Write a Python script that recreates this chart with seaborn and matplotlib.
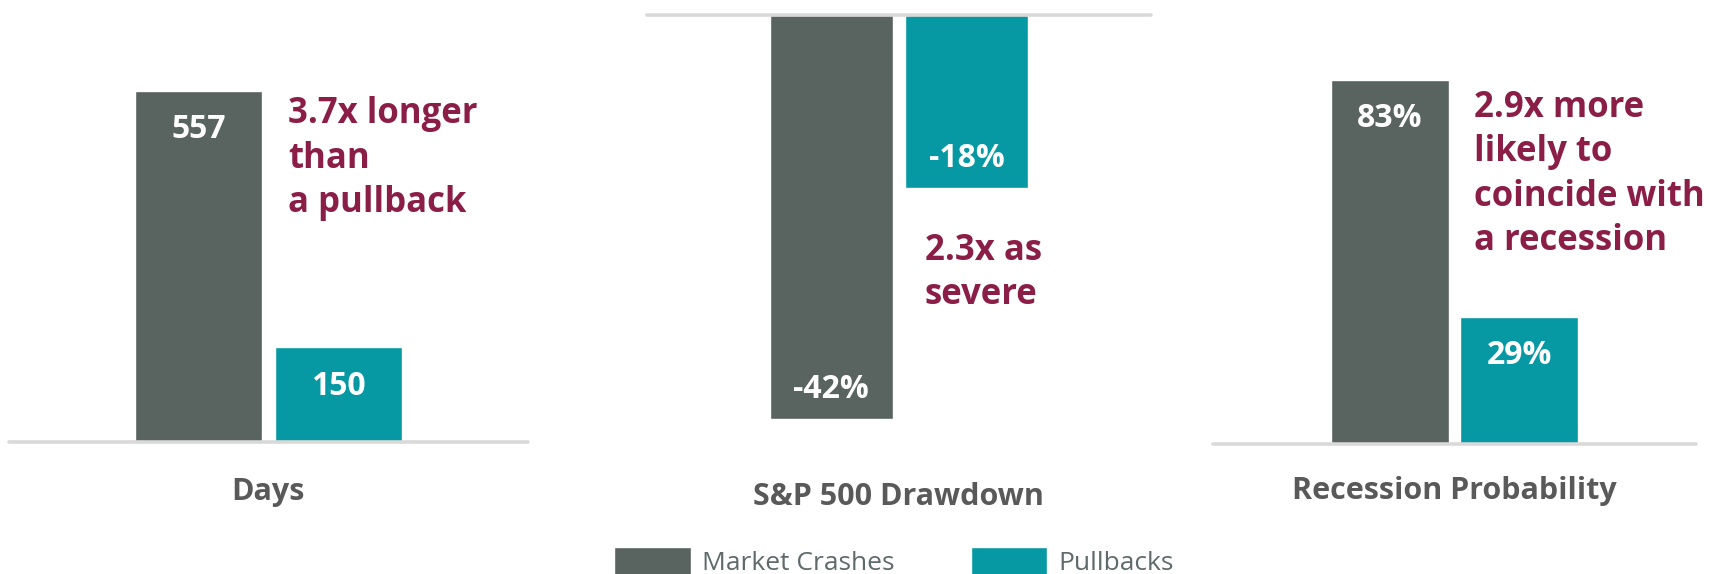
import matplotlib
matplotlib.use("Agg")
import matplotlib.pyplot as plt
import pandas as pd
import seaborn as sns

# ---- data -------------------------------------------------------------
series = ["Market Crashes", "Pullbacks"]
metrics = ["Days", "S&P 500 Drawdown", "Recession Probability"]
days = [557, 150]
drawdown = [-42, -18]
recession = [83, 29]
value_labels = [["557", "150"], ["-42%", "-18%"], ["83%", "29%"]]
callouts = [
    ["3.7x longer", "than", "a pullback"],
    ["2.3x as", "severe"],
    ["2.9x more", "likely to", "coincide with", "a recession"],
]

# ---- style ------------------------------------------------------------
GREY = "#59635F"
TEAL = "#0699A3"
MAROON = "#8B1E47"
LABEL_GREY = "#595959"
LEGEND_GREY = "#5F6A6A"
RULE = "#D9D9D9"

sns.set_theme(style="white")
plt.rcParams["font.family"] = ["Open Sans", "DejaVu Sans"]

W, H = 1709, 574
fig = plt.figure(figsize=(W / 100, H / 100), dpi=100)


def fx(px):
    return px / W


def fy(py):
    return 1 - py / H


# panel boxes in pixels: left, right, y of zero line, y of far end
boxes = [
    (9, 528, 442, 91),
    (647, 1151, 15, 419),
    (1213, 1696, 444, 80),
]
values = [days, drawdown, recession]

axes = []
for (l, r, y0, y1), vals, metric in zip(boxes, values, metrics):
    bottom = max(y0, y1)
    top = min(y0, y1)
    ax = fig.add_axes([fx(l), fy(bottom), (r - l) / W, (bottom - top) / H])
    df = pd.DataFrame({"metric": [metric] * 2, "series": series, "value": vals})
    sns.barplot(data=df, x="metric", y="value", hue="series",
                palette=[GREY, TEAL], gap=0.09, width=0.8,
                saturation=1, ax=ax, legend=(metric == metrics[0]))
    ax.set_xlim(-0.745, 0.745)
    if min(vals) < 0:
        ax.set_ylim(min(vals), 0)
    else:
        ax.set_ylim(0, max(vals))
    ax.axhline(0, color=RULE, lw=2.6, zorder=5, clip_on=False)
    ax.set_axis_off()
    axes.append(ax)

# value labels inside the bar ends
for ax, labels in zip(axes, value_labels):
    bars = [p for p in ax.patches if p.get_width() > 0]
    bars.sort(key=lambda p: p.get_x())
    for bar, txt in zip(bars, labels):
        xc = bar.get_x() + bar.get_width() / 2
        y_lo = min(bar.get_y(), bar.get_y() + bar.get_height())
        y_hi = max(bar.get_y(), bar.get_y() + bar.get_height())
        if y_hi > 0:
            end, off = y_hi, -34
        else:
            end, off = y_lo, 15
        ax.annotate(txt, (xc, end), xytext=(0, off), textcoords="offset points",
                    ha="center", va="baseline", color="white",
                    fontsize=23, fontweight="bold", annotation_clip=False)

# callout text, one line at a time
callout_pos = [(288, 123), (925, 260), (1474, 117)]
LINE_STEP = 44.5
for (px, py), lines in zip(callout_pos, callouts):
    for i, line in enumerate(lines):
        fig.text(fx(px), fy(py + i * LINE_STEP), line, ha="left",
                 va="baseline", color=MAROON, fontsize=25, fontweight="bold")

# category names under each panel
cat_pos = [(268, 500), (898, 505), (1454, 499)]
for (px, py), name in zip(cat_pos, metrics):
    fig.text(fx(px), fy(py), name, ha="center", va="baseline",
             color=LABEL_GREY, fontsize=22, fontweight="bold")

# shared legend
handles, labels = axes[0].get_legend_handles_labels()
axes[0].get_legend().remove()
fig.legend(handles, labels, loc="upper left", bbox_to_anchor=(fx(614), fy(547)),
           ncol=2, frameon=False, fontsize=19, labelcolor=LEGEND_GREY,
           handlelength=2.9, handleheight=1.3, handletextpad=0.42,
           columnspacing=2.9, borderpad=0, borderaxespad=0)

fig.savefig("out.png", dpi=100)
